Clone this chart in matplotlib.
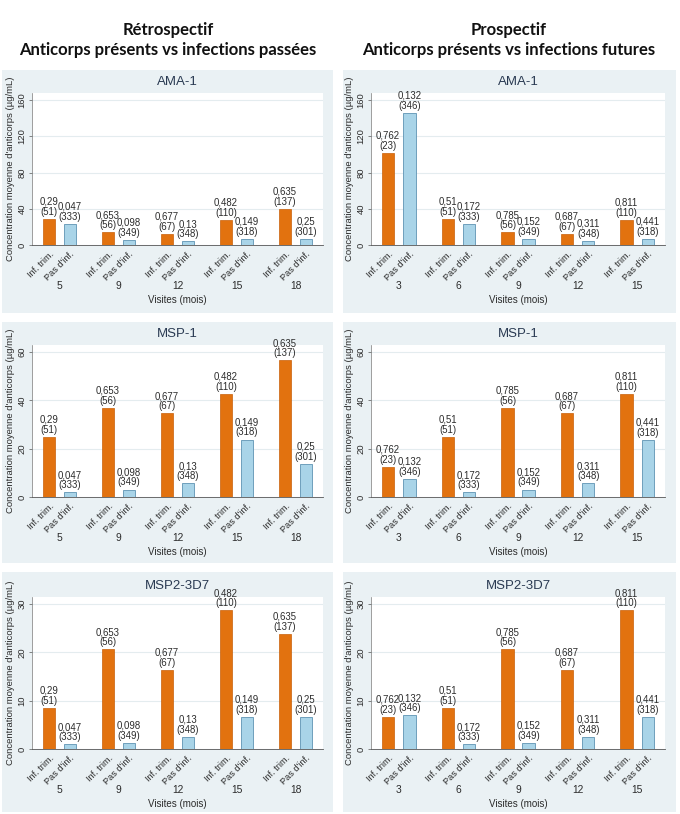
import matplotlib
matplotlib.use("Agg")
import matplotlib.pyplot as plt
from matplotlib.patches import Rectangle

# ---------------- data ----------------
antigens = ["AMA-1", "MSP-1", "MSP2-3D7"]
retro_visits = ["5", "9", "12", "15", "18"]
prosp_visits = ["3", "6", "9", "12", "15"]
bar_names = ["Inf. trim.", "Pas d'inf."]

retro_inf = {
    "AMA-1": [28.7, 14.0, 12.1, 28.0, 40.0],
    "MSP-1": [24.9, 36.9, 34.7, 42.8, 56.7],
    "MSP2-3D7": [8.5, 20.7, 16.4, 28.75, 23.9],
}
retro_noinf = {
    "AMA-1": [23.5, 5.9, 4.0, 6.6, 7.0],
    "MSP-1": [1.9, 3.1, 5.6, 23.8, 13.8],
    "MSP2-3D7": [1.0, 1.25, 2.5, 6.7, 6.7],
}
prosp_inf = {
    "AMA-1": [101.9, 28.7, 14.0, 12.1, 28.0],
    "MSP-1": [12.5, 25.0, 36.9, 34.7, 42.8],
    "MSP2-3D7": [6.7, 8.5, 20.7, 16.4, 28.75],
}
prosp_noinf = {
    "AMA-1": [146.0, 23.5, 6.6, 4.8, 6.6],
    "MSP-1": [7.5, 1.9, 3.1, 5.6, 23.7],
    "MSP2-3D7": [7.0, 1.0, 1.25, 2.5, 6.7],
}

retro_inf_lab = ["0,29\n(51)", "0,653\n(56)", "0,677\n(67)", "0,482\n(110)", "0,635\n(137)"]
retro_noinf_lab = ["0,047\n(333)", "0,098\n(349)", "0,13\n(348)", "0,149\n(318)", "0,25\n(301)"]
prosp_inf_lab = ["0,762\n(23)", "0,51\n(51)", "0,785\n(56)", "0,687\n(67)", "0,811\n(110)"]
prosp_noinf_lab = ["0,132\n(346)", "0,172\n(333)", "0,152\n(349)", "0,311\n(348)", "0,441\n(318)"]

yticks = {
    "AMA-1": [0, 40, 80, 120, 160],
    "MSP-1": [0, 20, 40, 60],
    "MSP2-3D7": [0, 10, 20, 30],
}

ylabel = "Concentration moyenne d'anticorps (µg/mL)"
xlabel = "Visites (mois)"
col_titles = ["Rétrospectif\nAnticorps présents vs infections passées",
              "Prospectif\nAnticorps présents vs infections futures"]

# ---------------- style ----------------
W, H = 680, 814
ORANGE = "#e2720f"
BLUE = "#a9d4e8"
BLUE_EDGE = "#5f93b3"
PANEL_BG = "#eaf1f4"
TXT = "#2b2b2b"
FONT = "Liberation Sans"

fig = plt.figure(figsize=(W / 100, H / 100), dpi=100)
fig.patch.set_facecolor("white")

def fx(px):
    return px / W

def fy(py):
    return 1 - py / H

# panel backgrounds (pixel boxes)
panel_x = [(2, 333), (343, 676)]
panel_y = [(70, 313), (322, 563), (572, 812)]
for (x0, x1) in panel_x:
    for (y0, y1) in panel_y:
        fig.patches.append(Rectangle((fx(x0), fy(y1)), fx(x1) - fx(x0), fy(y0) - fy(y1),
                                     transform=fig.transFigure, facecolor=PANEL_BG,
                                     edgecolor="none", zorder=-10))

# column titles
for cx, t in zip([168, 509], col_titles):
    fig.text(fx(cx), fy(40), t, ha="center", va="center", fontsize=12,
             fontweight="bold", family="Lato", color="#111111", linespacing=1.3)

axes_x = [(32, 323), (371, 665)]
axes_y = [(93, 245), (345, 497), (597, 749)]

offset = 0.177
width = 0.21

for col in range(2):
    if col == 0:
        inf_d, no_d, il, nl, visits = retro_inf, retro_noinf, retro_inf_lab, retro_noinf_lab, retro_visits
    else:
        inf_d, no_d, il, nl, visits = prosp_inf, prosp_noinf, prosp_inf_lab, prosp_noinf_lab, prosp_visits
    for row, ag in enumerate(antigens):
        x0, x1 = axes_x[col]
        y0, y1 = axes_y[row]
        ax = fig.add_axes([fx(x0), fy(y1), fx(x1) - fx(x0), fy(y0) - fy(y1)], zorder=5)
        ax.set_facecolor("white")
        n = len(visits)
        xs = list(range(n))
        xo = [x - offset for x in xs]
        xb = [x + offset for x in xs]
        b1 = ax.bar(xo, inf_d[ag], width=width, color=ORANGE, edgecolor="#c8600a",
                    linewidth=0.5, zorder=3)
        b2 = ax.bar(xb, no_d[ag], width=width, color=BLUE, edgecolor=BLUE_EDGE,
                    linewidth=0.6, zorder=3)
        ax.bar_label(b1, labels=il, padding=1.5, fontsize=6.9, color=TXT,
                     family=FONT, linespacing=1.0)
        ax.bar_label(b2, labels=nl, padding=1.5, fontsize=6.9, color=TXT,
                     family=FONT, linespacing=1.0)

        yt = yticks[ag]
        ax.set_ylim(0, yt[-1] * 1.05)
        ax.set_yticks(yt)
        ax.set_yticklabels([str(v) for v in yt], rotation=90, va="center",
                           fontsize=6.8, family=FONT, color=TXT)
        ax.set_xlim(-0.465, n - 1 + 0.465)
        ticks = []
        labs = []
        for i in range(n):
            ticks += [xo[i], xb[i]]
            labs += bar_names
        ax.set_xticks(ticks)
        ax.set_xticklabels(labs, rotation=45, ha="right", va="top",
                           rotation_mode="anchor", fontsize=6.6, family=FONT, color=TXT)
        ax.tick_params(axis="x", length=0, pad=3)
        ax.tick_params(axis="y", length=2.5, width=0.5, pad=1.5, colors="#555555")
        for lab in ax.get_yticklabels():
            lab.set_color(TXT)
        ax.grid(axis="y", color="#e4ecef", linewidth=0.8, zorder=0)
        ax.set_axisbelow(True)
        for s in ["top", "right"]:
            ax.spines[s].set_visible(False)
        ax.spines["left"].set_color("#777777")
        ax.spines["left"].set_linewidth(0.5)
        ax.spines["bottom"].set_color("#555555")
        ax.spines["bottom"].set_linewidth(0.6)

        ax.set_title(ag, fontsize=9.5, family=FONT, color="#2a3a52", pad=6)
        ax.set_ylabel(ylabel, fontsize=6.8, family=FONT, color=TXT, labelpad=1.5)

        for i in range(n):
            ax.annotate(visits[i], xy=(xs[i], 0), xycoords=("data", "axes fraction"),
                        xytext=(0, -29.5), textcoords="offset points", ha="center",
                        va="center", fontsize=7.4, family=FONT, color=TXT)
        ax.annotate(xlabel, xy=(0.5, 0), xycoords="axes fraction", xytext=(0, -39.5),
                    textcoords="offset points", ha="center", va="center",
                    fontsize=7, family=FONT, color=TXT)

fig.savefig("out.png", dpi=100, facecolor="white")
